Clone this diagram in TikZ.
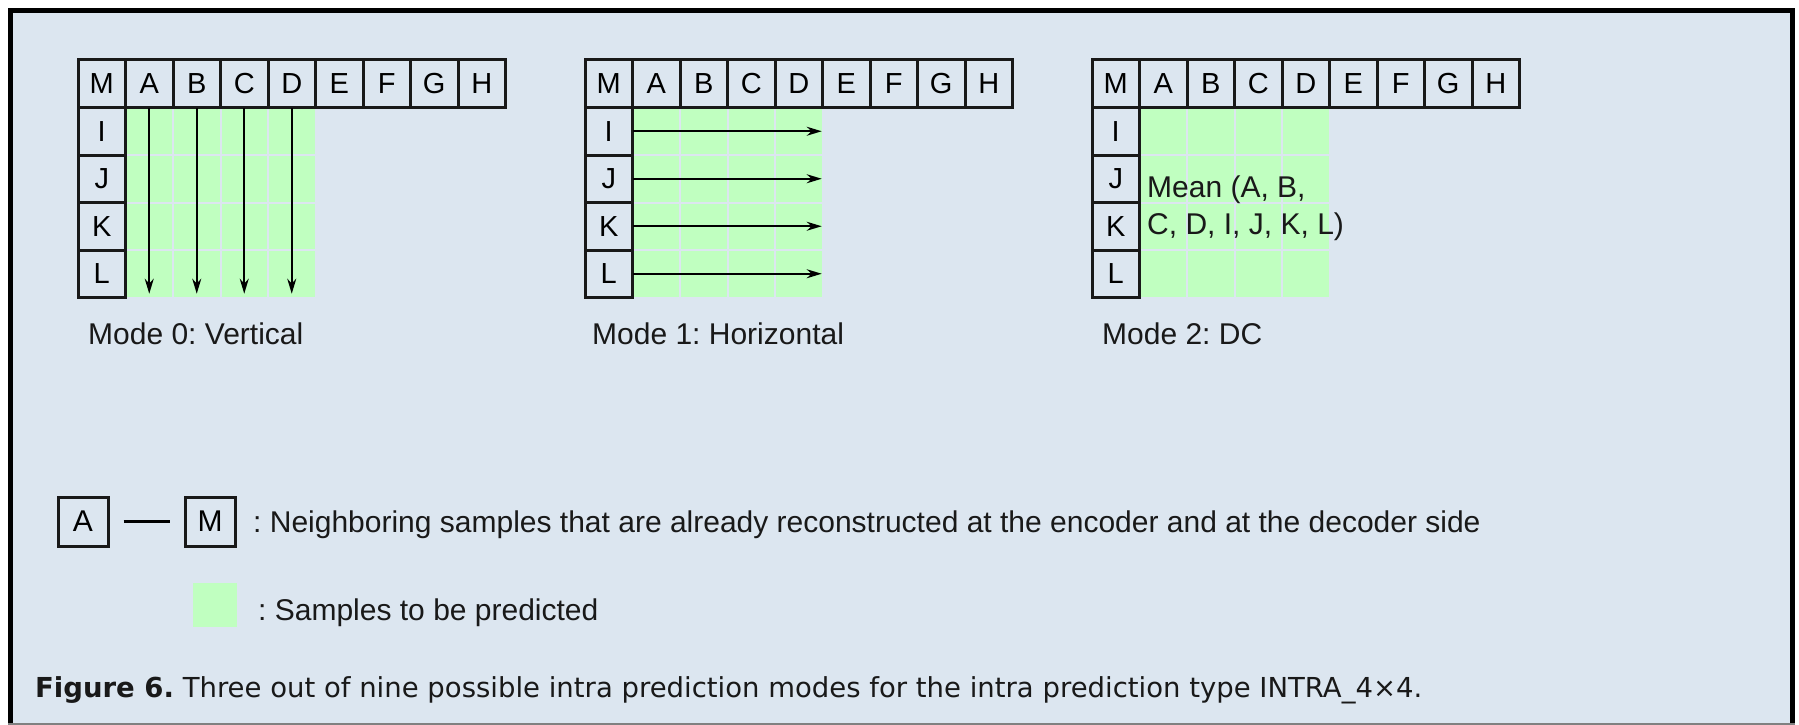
\documentclass[tikz,border=0pt]{standalone}
\usepackage{fontspec}
\setmainfont{Liberation Sans}
\newfontfamily\captionfont{DejaVu Sans}
\usepackage{tikz}
\usetikzlibrary{arrows.meta}
\frenchspacing

\definecolor{panelbg}{RGB}{220,230,240}
\definecolor{predgreen}{RGB}{192,255,192}
\definecolor{inkgray}{RGB}{25,25,25}

\begin{document}
\begin{tikzpicture}[x=1pt,y=-1pt,
		cellbox/.style={draw=inkgray,line width=3pt,minimum size=47.5pt,inner sep=0pt,font=\fontsize{29}{29}\selectfont},
		predbox/.style={fill=predgreen,minimum size=45.5pt,inner sep=0pt},
		modelabel/.style={anchor=base west,inner sep=0pt,text=inkgray,font=\fontsize{30}{37}\selectfont},
		>={Stealth[length=15pt,width=9pt]}]
	% panel and frame
	\useasboundingbox (0,0) rectangle (1799,725);
	\fill[white] (0,0) rectangle (1799,725);
	\fill[panelbg] (10.5,10.5) rectangle (1792.5,723.5);
	\draw[line width=5pt] (10.5,723.5) -- (10.5,10.5) -- (1792.5,10.5) -- (1792.5,723.5);
	\draw[gray,line width=2pt] (8,724) -- (1795,724);

	% the three 4x4 blocks with their neighbours
	\foreach \g/\ox in {0/78,1/585,2/1092}{
		\begin{scope}[shift={(\ox,60)}]
			\foreach \i in {1,...,4}
				\foreach \j in {1,...,4}
					\node[predbox] (g\g-\i\j) at ({(\i+0.5)*47.5},{(\j+0.5)*47.5}) {};
			\foreach \l [count=\i from 0] in {M,A,B,C,D,E,F,G,H}
				\node[cellbox] (g\g-\l) at ({(\i+0.5)*47.5},23.75) {\l};
			\foreach \l [count=\j] in {I,J,K,L}
				\node[cellbox] (g\g-\l) at (23.75,{(\j+0.5)*47.5}) {\l};
		\end{scope}
	}

	\node[modelabel] (mode0) at (88,344) {Mode 0: Vertical};
	\node[modelabel] (mode1) at (592,344) {Mode 1: Horizontal};
	\node[modelabel] (mode2) at (1102,344) {Mode 2: DC};

	% prediction directions
	\foreach \i in {1,...,4}
		\draw[->,line width=2pt,shorten >=3pt] (g0-\i1.north) -- (g0-\i4.south);
	\foreach \j in {1,...,4}
		\draw[->,line width=2pt] (g1-1\j.west) -- (g1-4\j.east);
	\node[anchor=west,align=left,inner sep=0pt,text=inkgray,font=\fontsize{30}{37}\selectfont] (meantext) at (1147,208) {Mean (A, B,\\C, D, I, J, K, L)};

	% legend
	\node[cellbox,minimum width=50pt,minimum height=49pt,font=\fontsize{30}{30}\selectfont] (legA) at (83,521.5) {A};
	\node[cellbox,minimum width=50pt,minimum height=49pt,font=\fontsize{30}{30}\selectfont] (legM) at (210,521.5) {M};
	\draw[line width=3pt,shorten <=14pt,shorten >=14pt] (legA) -- (legM);
	\node[modelabel] (legtext1) at (253,532) {: Neighboring samples that are already reconstructed at the encoder and at the decoder side};
	\node[predbox,minimum size=44pt] (legG) at (215,605) {};
	\node[modelabel] (legtext2) at (258,620) {: Samples to be predicted};

	% caption
	\node[anchor=base west,inner sep=0pt,text=inkgray,font=\captionfont\fontsize{27.5}{32}\selectfont] (caption) at (35,697) {\textbf{Figure 6.} Three out of nine possible intra prediction modes for the intra prediction type INTRA\_4×4.};
\end{tikzpicture}
\end{document}
